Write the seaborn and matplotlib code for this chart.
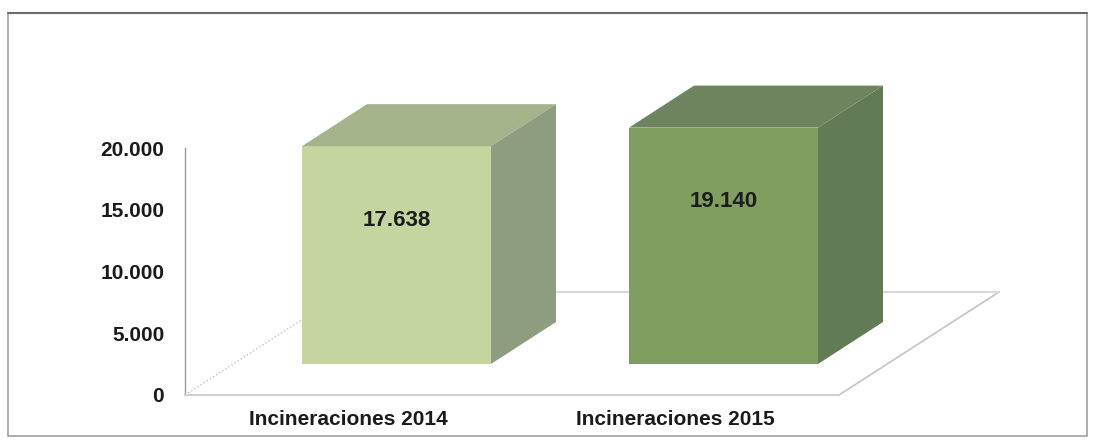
import pandas as pd
import seaborn as sns
import matplotlib.pyplot as plt
from matplotlib.patches import Polygon, Rectangle
from matplotlib.lines import Line2D

categories = ["Incineraciones 2014", "Incineraciones 2015"]
values = [17638, 19140]
y_ticks = [0, 5000, 10000, 15000, 20000]

front_colors = ["#c4d59f", "#7f9e60"]
top_colors = ["#a5b38b", "#6e845f"]
side_colors = ["#8e9c7f", "#627a55"]


def miles(v):
    # spanish style thousands separator
    return f"{v:,.0f}".replace(",", ".")


sns.set_style("white")
plt.rcParams["font.family"] = ["Liberation Sans", "DejaVu Sans"]

W, H = 1093, 441
fig = plt.figure(figsize=(W / 100, H / 100), dpi=100)
ax = fig.add_axes([185 / W, 46 / H, 654 / W, 247 / H])

df = pd.DataFrame({"cat": categories, "val": values})
sns.barplot(data=df, x="cat", y="val", hue="cat", palette=front_colors,
            legend=False, width=0.578, saturation=1, linewidth=0, ax=ax)
ax.set_xlim(-0.5, 1.5)
ax.set_ylim(0, 20000)

# pixel -> data units, to fake the excel 3d depth
p0 = ax.transData.transform((0, 0))
p1 = ax.transData.transform((1, 1000))
ux = p1[0] - p0[0]
uy = (p1[1] - p0[1]) / 1000

sx, sy = 48 / ux, 31 / uy      # bars sit half way into the floor
bdx, bdy = 65 / ux, 42 / uy    # bar depth
fdx, fdy = 160 / ux, 103 / uy  # floor depth

# floor
x_lo, x_hi = ax.get_xlim()
floor_kw = dict(clip_on=False, zorder=0.5)
ax.add_line(Line2D([x_hi, x_hi + fdx], [0, fdy], color="#c4c4c4", lw=1.2, **floor_kw))
ax.add_line(Line2D([x_lo + fdx, x_hi + fdx], [fdy, fdy], color="#d8d8d8", lw=1.5, **floor_kw))
ax.add_line(Line2D([x_lo, x_lo + fdx], [0, fdy], color="#c0c0c0", lw=1, ls=":", **floor_kw))

bars = sorted(ax.patches, key=lambda p: p.get_x())
for i, bar in enumerate(bars):
    x0 = bar.get_x() + sx
    w = bar.get_width()
    h = bar.get_height()
    y0 = sy
    bar.set_x(x0)
    bar.set_y(y0)
    bar.set_clip_on(False)
    bar.set_zorder(2)
    top = Polygon([(x0, y0 + h), (x0 + w, y0 + h), (x0 + w + bdx, y0 + h + bdy), (x0 + bdx, y0 + h + bdy)],
                  closed=True, facecolor=top_colors[i], lw=0, clip_on=False, zorder=2)
    side = Polygon([(x0 + w, y0), (x0 + w + bdx, y0 + bdy), (x0 + w + bdx, y0 + h + bdy), (x0 + w, y0 + h)],
                   closed=True, facecolor=side_colors[i], lw=0, clip_on=False, zorder=2)
    ax.add_patch(top)
    ax.add_patch(side)
    ax.annotate(miles(h), (x0 + w / 2, y0 + h), xytext=(0, -74), textcoords="offset pixels",
                ha="center", va="center", fontsize=16, fontweight="bold", color="#1c1c1c",
                zorder=3, annotation_clip=False)

ax.set_yticks(y_ticks)
ax.set_yticklabels([miles(t) for t in y_ticks])
ax.set_xlabel("")
ax.set_ylabel("")
ax.tick_params(axis="y", length=0, pad=15, labelsize=15, labelcolor="#1a1a1a")
ax.tick_params(axis="x", length=0, pad=11, labelsize=15, labelcolor="#1a1a1a")
for lab in ax.get_xticklabels() + ax.get_yticklabels():
    lab.set_fontweight("bold")

for s in ["top", "right"]:
    ax.spines[s].set_visible(False)
ax.spines["left"].set_color("#9a9a9a")
ax.spines["left"].set_linewidth(1)
ax.spines["bottom"].set_color("#d0d0d0")
ax.spines["bottom"].set_linewidth(1.5)
ax.set_facecolor("none")

# outer frame of the scanned chart
fig.patches.append(Rectangle((8 / W, 5 / H), 1079 / W, 423 / H, transform=fig.transFigure,
                             fill=False, edgecolor="#a0a0a0", lw=1.2))
fig.lines.append(Line2D([8 / W, 1087 / W], [428 / H, 428 / H], transform=fig.transFigure,
                        color="#6a6a6a", lw=1.5))

fig.savefig("out.png", dpi=100)
